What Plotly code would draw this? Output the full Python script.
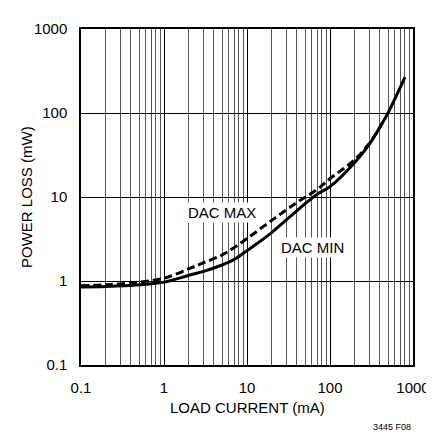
import plotly.graph_objects as go

# DAC MIN (solid)
min_current = [0.1, 0.2, 0.5, 1, 2, 3, 5, 7, 10, 20, 40, 70, 100, 200, 300, 400, 500, 800]
min_loss = [0.85, 0.86, 0.9, 0.97, 1.17, 1.3, 1.55, 1.8, 2.3, 3.8, 6.9, 10.8, 13.3, 26, 43, 68, 100, 267]

# DAC MAX (dashed)
max_current = [0.1, 0.2, 0.5, 1, 2, 3, 5, 7, 10, 20, 40, 70, 100, 200, 300, 400, 450]
max_loss = [0.88, 0.9, 0.97, 1.08, 1.4, 1.65, 2.04, 2.5, 3.2, 5.3, 8.6, 12.3, 16.5, 28, 44, 68, 83]

x_ticks = [0.1, 1, 10, 100, 1000]
x_ticktext = ["0.1", "1", "10", "100", "1000"]
y_ticks = [0.1, 1, 10, 100, 1000]
y_ticktext = ["0.1", "1", "10", "100", "1000"]

minor_x = [m * d for d in [0.1, 1, 10, 100] for m in range(2, 10)]

FONT = "Liberation Sans, Arial, sans-serif"

fig = go.Figure()
fig.add_trace(go.Scatter(x=max_current, y=max_loss, mode="lines",
                         line=dict(color="black", width=3, dash="8px,4px"),
                         line_shape="spline", showlegend=False))
fig.add_trace(go.Scatter(x=min_current, y=min_loss, mode="lines",
                         line=dict(color="black", width=3),
                         line_shape="spline", showlegend=False))

fig.update_layout(
    width=434, height=434,
    margin=dict(l=73, r=19, t=15, b=77),
    paper_bgcolor="white", plot_bgcolor="white",
    font=dict(family=FONT, size=15, color="black"),
    xaxis=dict(type="log", range=[-1, 3], tickvals=x_ticks, ticktext=x_ticktext,
               showgrid=True, gridcolor="black", gridwidth=1,
               minor=dict(tickvals=minor_x, showgrid=True, gridcolor="#555555", gridwidth=1, ticks=""),
               showline=True, linecolor="black", linewidth=1.5, mirror=True,
               ticks="", ticklabelstandoff=8, zeroline=False),
    yaxis=dict(type="log", range=[-1, 3], tickvals=y_ticks, ticktext=y_ticktext,
               showgrid=True, gridcolor="black", gridwidth=1,
               showline=True, linecolor="black", linewidth=1.5, mirror=True,
               ticks="", ticklabelstandoff=9, zeroline=False),
)

fig.add_annotation(text="LOAD CURRENT (mA)", xref="paper", yref="paper",
                   x=0.5, y=0, yshift=-42, showarrow=False,
                   font=dict(size=15), xanchor="center", yanchor="middle")
fig.add_annotation(text="POWER LOSS (mW)", xref="paper", yref="paper",
                   x=0, y=0.5, xshift=-55, showarrow=False, textangle=-90,
                   font=dict(size=15), xanchor="center", yanchor="middle")
fig.add_annotation(text="3445 F08", xref="paper", yref="paper",
                   x=1, y=0, yshift=-62, showarrow=False,
                   font=dict(size=9), xanchor="right", yanchor="middle")
fig.add_annotation(text="DAC MAX", x=0.696, y=0.813, xref="x", yref="y",
                   showarrow=False, bgcolor="white", font=dict(size=15),
                   xanchor="center", yanchor="middle")
fig.add_annotation(text="DAC MIN", x=1.795, y=0.404, xref="x", yref="y",
                   showarrow=False, bgcolor="white", font=dict(size=15),
                   xanchor="center", yanchor="middle")

fig.write_html("out.html")
